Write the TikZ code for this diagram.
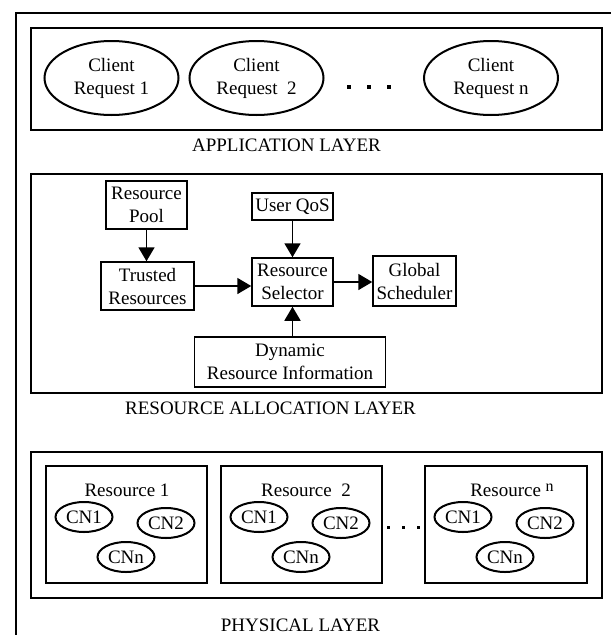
\documentclass[tikz,border=0pt]{standalone}
\usepackage{fontspec}
\setmainfont{Liberation Serif}
\usetikzlibrary{arrows.meta,shapes.geometric}
\begin{document}
\begin{tikzpicture}[x=1pt,y=-1pt,
  txt/.style={font=\fontsize{19}{23}\selectfont},
  layerbox/.style={draw, line width=1.4pt, inner sep=0pt, minimum width=571pt},
  resbox/.style={draw, line width=1.4pt, inner sep=0pt, minimum width=161pt, minimum height=117pt},
  box/.style={draw, line width=1.5pt, inner sep=0pt, align=center, txt},
  ell/.style={draw, ellipse, line width=2pt, inner sep=0pt, align=center, txt},
  cn/.style={ell, minimum width=57pt, minimum height=30pt},
  cr/.style={ell, minimum width=134pt, minimum height=74pt},
  arr/.style={line width=1.8pt, -{Triangle[length=14pt,width=16pt]}},
  bigdot/.style={fill, inner sep=0pt, minimum size=4.5pt},
  smalldot/.style={fill, inner sep=0pt, minimum size=3pt},
  lbl/.style={txt, inner sep=0pt}]
\useasboundingbox (0,0) rectangle (611,635);
\fill[white] (0,0) rectangle (611,635);
% outer frame (cropped)
\draw[line width=1.4pt] (16,635) -- (16,13) -- (611,13);

% ---------- application layer ----------
\node[layerbox, minimum height=102pt] (app) at (316.5,79) {};
\node[cr] (cr1) at (111.5,78) {Client\\Request 1};
\node[cr] (cr2) at (256.5,78) {Client\\Request~ 2};
\node[cr] (crn) at (491,78) {Client\\Request n};
\node[bigdot] (ad1) at (349,87) {};
\node[bigdot] (ad2) at (369,87) {};
\node[bigdot] (ad3) at (389,87) {};
\node[lbl] (applbl) at (286.5,145) {APPLICATION LAYER};

% ---------- resource allocation layer ----------
\node[layerbox, minimum height=219pt] (ra) at (316.5,283.5) {};
\node[box, minimum width=81pt, minimum height=48pt] (pool) at (146.5,205) {Resource\\Pool};
\node[box, minimum width=93pt, minimum height=48pt] (trusted) at (147.5,286) {Trusted\\Resources};
\node[box, minimum width=81pt, minimum height=27pt] (qos) at (292.5,206.5) {User QoS};
\node[box, minimum width=81pt, minimum height=48pt] (sel) at (292.5,282) {Resource\\Selector};
\node[box, minimum width=83pt, minimum height=50pt] (glob) at (414.5,281) {Global\\Scheduler};
\node[box, minimum width=191pt, minimum height=50pt] (dyn) at (290,362) {Dynamic\\Resource Information};
\node[lbl] (ralbl) at (270.5,408) {RESOURCE ALLOCATION LAYER};

\draw[arr] (pool.south) -- (pool.south |- trusted.north);
\draw[arr] (trusted.east) -- (trusted.east -| sel.west);
\draw[arr] (qos) -- (sel);
\draw[arr] (sel.east) -- (sel.east -| glob.west);
\draw[arr] (dyn.north -| sel.south) -- (sel.south);

% ---------- physical layer ----------
\node[layerbox, minimum height=146pt] (phys) at (316.5,525) {};
\node[resbox] (res1) at (126.5,524.5) {};
\node[resbox] (res2) at (301.5,524.5) {};
\node[resbox, minimum width=162pt] (resn) at (506,524.5) {};

\node[lbl] (r1lbl) at (127,490) {Resource 1};
\node[lbl] (r2lbl) at (306,490) {Resource~ 2};
\node[lbl] (rnlbl) at (512,490) {Resource \raisebox{5pt}{\fontsize{16}{16}\selectfont n}};

\node[cn] (a1) at (84,517) {CN1};
\node[cn] (a2) at (166,523) {CN2};
\node[cn] (an) at (126,557) {CNn};

\node[cn] (b1) at (259,517) {CN1};
\node[cn] (b2) at (341,523) {CN2};
\node[cn] (bn) at (301,557) {CNn};

\node[cn] (c1) at (463,517) {CN1};
\node[cn] (c2) at (545,523) {CN2};
\node[cn] (cnn) at (505,557) {CNn};

\node[smalldot] (pd1) at (388,527) {};
\node[smalldot] (pd2) at (403,527) {};
\node[smalldot] (pd3) at (418,527) {};

\node[lbl] (physlbl) at (300.5,625) {PHYSICAL LAYER};
\end{tikzpicture}
\end{document}
